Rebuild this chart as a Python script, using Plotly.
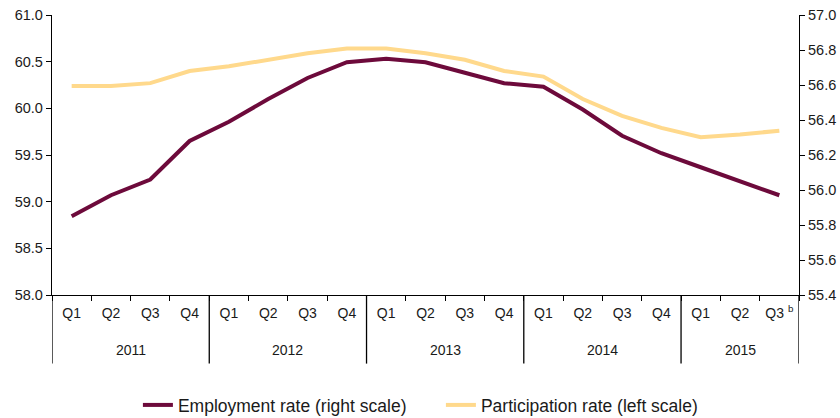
import plotly.graph_objects as go

quarters = ["Q1", "Q2", "Q3", "Q4"] * 4 + ["Q1", "Q2", "Q3 <sup>b</sup>"]
years = ["2011", "2012", "2013", "2014", "2015"]
quarters_per_year = [4, 4, 4, 4, 3]

employment = [55.85, 55.97, 56.06, 56.28, 56.39, 56.52, 56.64, 56.73, 56.75, 56.73,
              56.67, 56.61, 56.59, 56.46, 56.31, 56.21, 56.13, 56.05, 55.97]
participation = [60.24, 60.24, 60.27, 60.40, 60.45, 60.52, 60.59, 60.64, 60.64, 60.59,
                 60.52, 60.40, 60.34, 60.10, 59.92, 59.79, 59.69, 59.72, 59.76]

FONT = "Liberation Sans, Arial, sans-serif"
TXT = "#1a1a1a"
x = list(range(len(quarters)))

fig = go.Figure()
fig.add_trace(go.Scatter(
    x=x, y=employment, mode="lines", name="Employment rate (right scale)",
    line=dict(color="#6d0a3b", width=4), yaxis="y2",
))
fig.add_trace(go.Scatter(
    x=x, y=participation, mode="lines", name="Participation rate (left scale)",
    line=dict(color="#ffd98c", width=4),
))

# year boundaries (incl. both ends) and label positions
bounds = [-0.5]
for n in quarters_per_year:
    bounds.append(bounds[-1] + n)
centers = [(a + b) / 2 for a, b in zip(bounds[:-1], bounds[1:])]

for b in bounds:
    fig.add_shape(type="line", xref="x", yref="paper", x0=b, x1=b, y0=0, y1=-0.245,
                  line=dict(color="black", width=1.3))
for c, yr in zip(centers, years):
    fig.add_annotation(x=c, y=-0.196, xref="x", yref="paper", text=yr, showarrow=False,
                       font=dict(size=14, color=TXT, family=FONT), yanchor="middle")

fig.update_layout(
    width=840, height=418,
    margin=dict(l=52, r=41, t=15, b=123, autoexpand=False),
    paper_bgcolor="white", plot_bgcolor="white",
    font=dict(family=FONT, size=14, color=TXT),
    showlegend=True,
    legend=dict(orientation="h", x=0.115, xanchor="left", y=-0.393, yanchor="middle",
                font=dict(size=17.5, color=TXT), itemwidth=30, tracegroupgap=0,
                entrywidth=258, entrywidthmode="pixels"),
    xaxis=dict(
        range=[-0.5, len(quarters) - 0.5],
        tickvals=x, ticktext=quarters, ticks="", ticklabelstandoff=5,
        showgrid=False, zeroline=False,
        showline=True, linecolor="black", linewidth=1.3,
        minor=dict(tickvals=bounds[:1] + [i + 0.5 for i in x], ticks="outside",
                   ticklen=5, tickcolor="black", tickwidth=1.3, showgrid=False),
    ),
    yaxis=dict(
        range=[58, 61], dtick=0.5, tickformat=".1f", tickfont=dict(size=14.5),
        ticks="outside", ticklen=5, tickcolor="black", tickwidth=1.3,
        showgrid=False, zeroline=False,
        showline=True, linecolor="black", linewidth=1.3,
    ),
    yaxis2=dict(
        range=[55.4, 57.0], dtick=0.2, tickformat=".1f", tickfont=dict(size=14.5),
        overlaying="y", side="right",
        ticks="outside", ticklen=5, tickcolor="black", tickwidth=1.3,
        showgrid=False, zeroline=False,
        showline=True, linecolor="black", linewidth=1.3,
    ),
)

# drop the default page margin so the 840x418 figure sits flush in the window
fig.write_html("out.html", config={"displayModeBar": False},
               post_script="document.body.style.margin='0';")
